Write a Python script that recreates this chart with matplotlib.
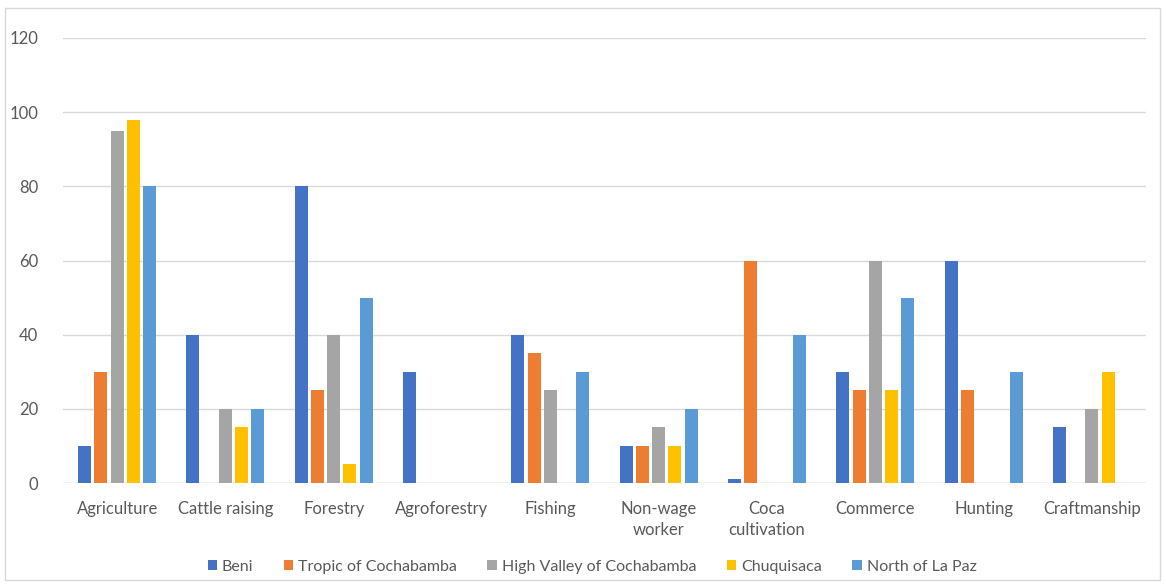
import numpy as np
import matplotlib.pyplot as plt
from matplotlib.patches import Rectangle

categories = ['Agriculture', 'Cattle raising', 'Forestry', 'Agroforestry', 'Fishing',
              'Non-wage\nworker', 'Coca\ncultivation', 'Commerce', 'Hunting', 'Craftmanship']
series = ['Beni', 'Tropic of Cochabamba', 'High Valley of Cochabamba', 'Chuquisaca', 'North of La Paz']
beni = [10, 40, 80, 30, 40, 10, 1, 30, 60, 15]
tropic = [30, 0, 25, 0, 35, 10, 60, 25, 25, 0]
high_valley = [95, 20, 40, 0, 25, 15, 0, 60, 0, 20]
chuquisaca = [98, 15, 5, 0, 0, 10, 0, 25, 0, 30]
north_la_paz = [80, 20, 50, 0, 30, 20, 40, 50, 30, 0]
colors = ['#4472C4', '#ED7D31', '#A5A5A5', '#FFC000', '#5B9BD5']

plt.rcParams['font.family'] = ['Lato', 'DejaVu Sans']
text_color = '#595959'

fig = plt.figure(figsize=(11.66, 5.88), dpi=100)
ax = fig.add_axes([63 / 1166, 1 - 483 / 588, (1146 - 63) / 1166, (483 - 38) / 588])

x = np.arange(len(categories))
step = 0.15
width = 0.12
for i, (name, vals) in enumerate(zip(series, [beni, tropic, high_valley, chuquisaca, north_la_paz])):
    ax.bar(x + (i - 2) * step, vals, width, color=colors[i], label=name, zorder=3)

ax.set_xlim(-0.5, len(categories) - 0.5)
ax.set_ylim(0, 120)
ax.set_yticks(range(0, 121, 20))
ax.set_xticks(x)
ax.set_xticklabels(categories, fontsize=12, color=text_color, linespacing=1.35, va='top')
ax.tick_params(axis='both', length=0, colors=text_color)
ax.tick_params(axis='y', labelsize=12, pad=18)
ax.tick_params(axis='x', pad=13)
ax.grid(axis='y', color='#d9d9d9', linewidth=1, zorder=0)
for s in ax.spines.values():
    s.set_visible(False)
ax.axhline(0, color='#d9d9d9', linewidth=1, zorder=2)

leg = fig.legend(loc='center', bbox_to_anchor=(592 / 1166, 1 - 567 / 588), ncol=5, frameon=False,
                 fontsize=11.5, handlelength=0.6, handleheight=0.6, handletextpad=0.3, columnspacing=1.9)
for t in leg.get_texts():
    t.set_color(text_color)

fig.patches.append(Rectangle((5 / 1166, 8 / 588), 1155 / 1166, 572 / 588, transform=fig.transFigure,
                             fill=False, edgecolor='#d9d9d9', linewidth=1))

fig.savefig('out.png', dpi=100)
